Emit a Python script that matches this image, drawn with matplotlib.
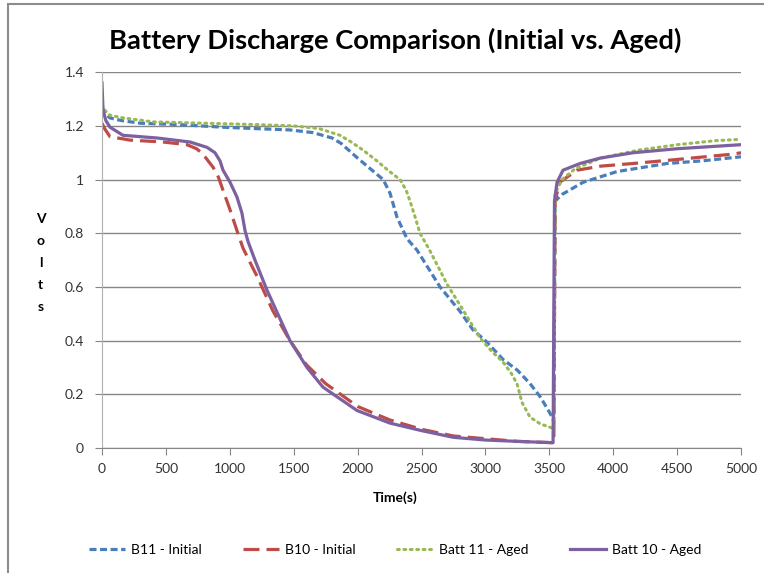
import matplotlib
matplotlib.use('Agg')
import matplotlib.pyplot as plt
from matplotlib.patches import Rectangle

plt.rcParams['font.family'] = ['Lato', 'DejaVu Sans']

# B11 - Initial
t_b11 = [0, 20, 60, 150, 300, 600, 950, 1200, 1470, 1650, 1800, 1870, 2000, 2100, 2200, 2253, 2308,
         2386, 2465, 2645, 2800, 2903, 3000, 3138, 3250, 3349, 3430, 3505, 3535, 3545, 3600, 3764,
         4030, 4421, 4700, 5000]
v_b11 = [1.27, 1.25, 1.23, 1.22, 1.21, 1.205, 1.195, 1.19, 1.185, 1.175, 1.155, 1.135, 1.08, 1.04, 1.00,
         0.95, 0.86, 0.78, 0.737, 0.60, 0.51, 0.44, 0.40, 0.33, 0.29, 0.24, 0.19, 0.13, 0.10, 0.92,
         0.945, 0.99, 1.03, 1.06, 1.07, 1.085]

# B10 - Initial
t_b10 = [0, 20, 63, 219, 477, 665, 740, 790, 830, 869, 910, 947, 1000, 1056, 1103, 1181, 1213, 1338,
         1471, 1600, 1750, 2000, 2250, 2500, 2750, 3000, 3250, 3535, 3545, 3580, 3717, 3900, 4155,
         4500, 4937, 5000]
v_b10 = [1.21, 1.19, 1.16, 1.147, 1.14, 1.13, 1.115, 1.095, 1.07, 1.046, 1.01, 0.96, 0.89, 0.81, 0.745,
         0.67, 0.64, 0.51, 0.40, 0.31, 0.24, 0.155, 0.105, 0.07, 0.045, 0.035, 0.025, 0.02, 0.92, 0.99,
         1.035, 1.05, 1.06, 1.075, 1.095, 1.10]

# Batt 11 - Aged
t_a11 = [0, 20, 60, 164, 400, 800, 1200, 1500, 1700, 1862, 1950, 2042, 2150, 2250, 2332, 2380, 2410,
         2450, 2488, 2560, 2700, 2830, 2958, 3050, 3138, 3200, 3247, 3286, 3349, 3430, 3521, 3535,
         3545, 3600, 3700, 3900, 4200, 4500, 4800, 5000]
v_a11 = [1.28, 1.26, 1.24, 1.23, 1.215, 1.21, 1.205, 1.20, 1.19, 1.165, 1.14, 1.11, 1.07, 1.03, 1.00,
         0.96, 0.92, 0.86, 0.80, 0.74, 0.61, 0.51, 0.41, 0.36, 0.32, 0.28, 0.24, 0.17, 0.115, 0.09,
         0.075, 0.07, 0.95, 1.00, 1.04, 1.08, 1.11, 1.13, 1.145, 1.15]

# Batt 10 - Aged
t_a10 = [0, 8, 30, 63, 164, 430, 689, 822, 884, 923, 947, 1002, 1056, 1095, 1119, 1142, 1197, 1291,
         1471, 1604, 1729, 1995, 2253, 2500, 2750, 3000, 3250, 3529, 3540, 3560, 3607, 3740, 3897,
         4155, 4500, 5000]
v_a10 = [1.36, 1.26, 1.22, 1.195, 1.165, 1.155, 1.14, 1.12, 1.10, 1.07, 1.035, 0.99, 0.935, 0.875,
         0.81, 0.77, 0.70, 0.588, 0.40, 0.30, 0.227, 0.14, 0.093, 0.065, 0.04, 0.03, 0.025, 0.02,
         0.92, 0.99, 1.035, 1.06, 1.08, 1.10, 1.115, 1.13]

fig = plt.figure(figsize=(7.64, 5.73), dpi=100)
ax = fig.add_axes([0.1335, 0.218, 0.8365, 0.656])

# outer chart frame (only top/left visible in the reference)
fig.patches.append(Rectangle((8 / 764, -0.1), 1.2, 1 - 4 / 573 + 0.1, transform=fig.transFigure,
                             fill=False, edgecolor='#8c8c8c', lw=1.5))

ax.plot(t_b11, v_b11, color='#4A7EBB', lw=2.3, dashes=(2.2, 1.1), label='B11 - Initial')
ax.plot(t_b10, v_b10, color='#BE4B48', lw=2.3, dashes=(5, 2.2), label='B10 - Initial')
ax.plot(t_a11, v_a11, color='#98B954', lw=2.2, dashes=(0.6, 1.5), dash_capstyle='round',
        label='Batt 11 - Aged')
ax.plot(t_a10, v_a10, color='#7D60A0', lw=2.3, label='Batt 10 - Aged')

ax.set_xlim(0, 5000)
ax.set_ylim(0, 1.4)
ax.set_xticks(range(0, 5001, 500))
ax.set_yticks([0, 0.2, 0.4, 0.6, 0.8, 1, 1.2, 1.4])
ax.set_yticklabels(['0', '0.2', '0.4', '0.6', '0.8', '1', '1.2', '1.4'])
ax.grid(axis='y', color='#868686', lw=1)
ax.set_axisbelow(True)
for s in ['top', 'right']:
    ax.spines[s].set_visible(False)
ax.spines['left'].set_color('#b0b0b0')
ax.spines['bottom'].set_color('#868686')
ax.tick_params(axis='both', labelsize=10, labelcolor='#333333', length=5, color='#868686')
ax.tick_params(axis='x', pad=6)
ax.tick_params(axis='y', pad=8)

fig.text(0.517, 0.930, 'Battery Discharge Comparison (Initial vs. Aged)', ha='center', va='center',
         fontsize=19.7, fontweight='bold')
fig.text(0.517, 0.131, 'Time(s)', ha='center', va='center', fontsize=10, fontweight='bold')
fig.text(0.053, 0.541, 'V\no\nl\nt\ns', ha='center', va='center', fontsize=10, fontweight='bold',
         linespacing=2.0)

fig.legend(loc='center', bbox_to_anchor=(0.517, 0.040), ncol=4, frameon=False, fontsize=10,
           handlelength=2.6, columnspacing=3.0, handletextpad=0.4)

fig.savefig('out.png', dpi=100)
